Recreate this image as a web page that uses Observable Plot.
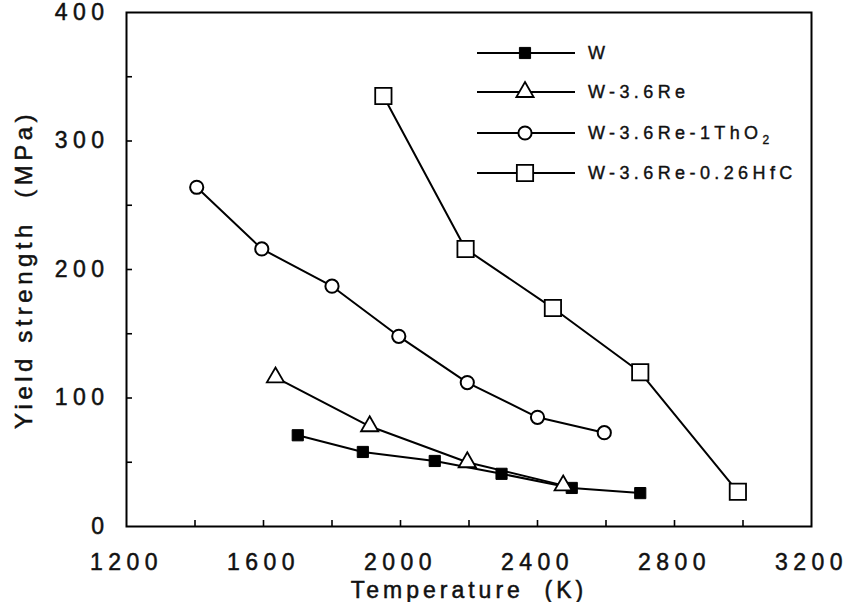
<!DOCTYPE html>
<html><head><meta charset="utf-8">
<script src="https://cdn.jsdelivr.net/npm/d3@7"></script>
<script src="https://cdn.jsdelivr.net/npm/@observablehq/plot@0.6"></script>
<style>
body{margin:0;background:#fff;}
#wrap{position:relative;width:850px;height:602px;overflow:hidden;}
#legend{position:absolute;left:0;top:0;pointer-events:none;}
</style></head><body><div id="wrap"></div>
<script>
const seriesNames = ["W", "W-3.6Re", "W-3.6Re-1ThO2", "W-3.6Re-0.26HfC"];
const wTemp = [1700, 1890, 2100, 2295, 2500, 2700];
const wYield = [71, 58, 51, 41, 30, 26];
const reTemp = [1635, 1910, 2195, 2475];
const reYield = [116, 78, 50, 32];
const thTemp = [1405, 1595, 1800, 1995, 2195, 2400, 2595];
const thYield = [264, 216, 187, 148, 112, 85, 73];
const hfTemp = [1950, 2190, 2445, 2700, 2985];
const hfYield = [335, 216, 170, 120, 27];
const xLabelTicks = [1200, 1600, 2000, 2400, 2800, 3200];
const xMinorTicks = [1400, 1600, 1800, 2000, 2200, 2400, 2600, 2800, 3000];
const yLabelTicks = [0, 100, 200, 300, 400];
const yMinorTicks = [50, 100, 150, 200, 250, 300, 350];

const rows = (xs, ys, s) => xs.map((x, i) => ({T: x, Y: ys[i], s}));
const data = [
  ...rows(wTemp, wYield, seriesNames[0]),
  ...rows(reTemp, reYield, seriesNames[1]),
  ...rows(thTemp, thYield, seriesNames[2]),
  ...rows(hfTemp, hfYield, seriesNames[3])
];
const styles = {
  [seriesNames[0]]: {symbol: "square", r: 6.3, fill: "black", sw: 1},
  [seriesNames[1]]: {symbol: "triangle", r: 6.4, fill: "white", sw: 1.8},
  [seriesNames[2]]: {symbol: "circle", r: 6.6, fill: "white", sw: 2},
  [seriesNames[3]]: {symbol: "square", r: 9.2, fill: "white", sw: 1.8}
};
const font = "'Liberation Sans', Arial, sans-serif";
const W = 850, H = 602, mL = 126, mR = 39, mT = 12, mB = 76, tickLen = 6;

const marks = [
  Plot.frame({stroke: "black", strokeWidth: 2}),
  Plot.ruleX(xMinorTicks, {x: d => d, insetTop: (H - mT - mB) - tickLen, stroke: "black", strokeWidth: 1.6}),
  Plot.ruleY(yMinorTicks, {y: d => d, insetRight: (W - mL - mR) - tickLen, stroke: "black", strokeWidth: 1.6}),
  Plot.axisX({ticks: xLabelTicks, tickSize: 0, tickPadding: 27, fontSize: 23, tickFormat: d => String(d),
    label: "Temperature  (K)", labelAnchor: "center", labelArrow: "none", labelOffset: 71}),
  Plot.axisY({ticks: yLabelTicks, tickSize: 0, tickPadding: 17, fontSize: 23, tickFormat: d => String(d),
    label: "Yield strength  (MPa)", labelAnchor: "center", labelArrow: "none", labelOffset: 112})
];
for (const name of seriesNames) {
  const st = styles[name];
  const sub = data.filter(d => d.s === name);
  marks.push(Plot.line(sub, {x: "T", y: "Y", stroke: "black", strokeWidth: 2}));
  marks.push(Plot.dot(sub, {x: "T", y: "Y", symbol: () => st.symbol, r: st.r, fill: st.fill, stroke: "black", strokeWidth: st.sw}));
}

const chart = Plot.plot({
  width: W, height: H,
  marginLeft: mL, marginRight: mR, marginTop: mT, marginBottom: mB,
  style: {fontFamily: font, background: "white", color: "black", overflow: "visible"},
  x: {domain: [1200, 3200]},
  y: {domain: [0, 400]},
  marks
});
const wrap = document.getElementById("wrap");
wrap.appendChild(chart);
d3.select(chart).selectAll("text").style("letter-spacing", "5.5px").style("fill", "#111")
  .style("stroke", "#111").style("stroke-width", "0.5px");
d3.select(chart).selectAll("[aria-label='y-axis label'] text").style("font-size", "24px").style("letter-spacing", "4.5px");
d3.select(chart).selectAll("[aria-label='x-axis label'] text").style("font-size", "23px").style("letter-spacing", "4px");

// legend overlay
const lg = d3.select(wrap).append("svg").attr("id", "legend").attr("width", W).attr("height", H);
const rowY = [53, 92, 133, 173];
const symMap = {square: d3.symbolSquare, triangle: d3.symbolTriangle, circle: d3.symbolCircle};
seriesNames.forEach((name, i) => {
  const st = styles[name];
  const g = lg.append("g").attr("transform", `translate(0,${rowY[i]})`);
  g.append("line").attr("x1", 477).attr("x2", 575).attr("stroke", "black").attr("stroke-width", 2);
  g.append("path").attr("transform", "translate(525,0)")
    .attr("d", d3.symbol(symMap[st.symbol], Math.PI * st.r * st.r)())
    .attr("fill", st.fill).attr("stroke", "black").attr("stroke-width", st.sw);
  const t = g.append("text").attr("x", 588).attr("y", 0).attr("dy", "0.35em")
    .attr("font-family", font).attr("font-size", 18).attr("fill", "#111")
    .style("letter-spacing", "4.4px").style("stroke", "#111").style("stroke-width", "0.4px");
  if (name.endsWith("ThO2")) {
    t.append("tspan").text(name.slice(0, -1));
    t.append("tspan").attr("font-size", 12).attr("dy", "5").text("2");
  } else t.text(name);
});
</script></body></html>
